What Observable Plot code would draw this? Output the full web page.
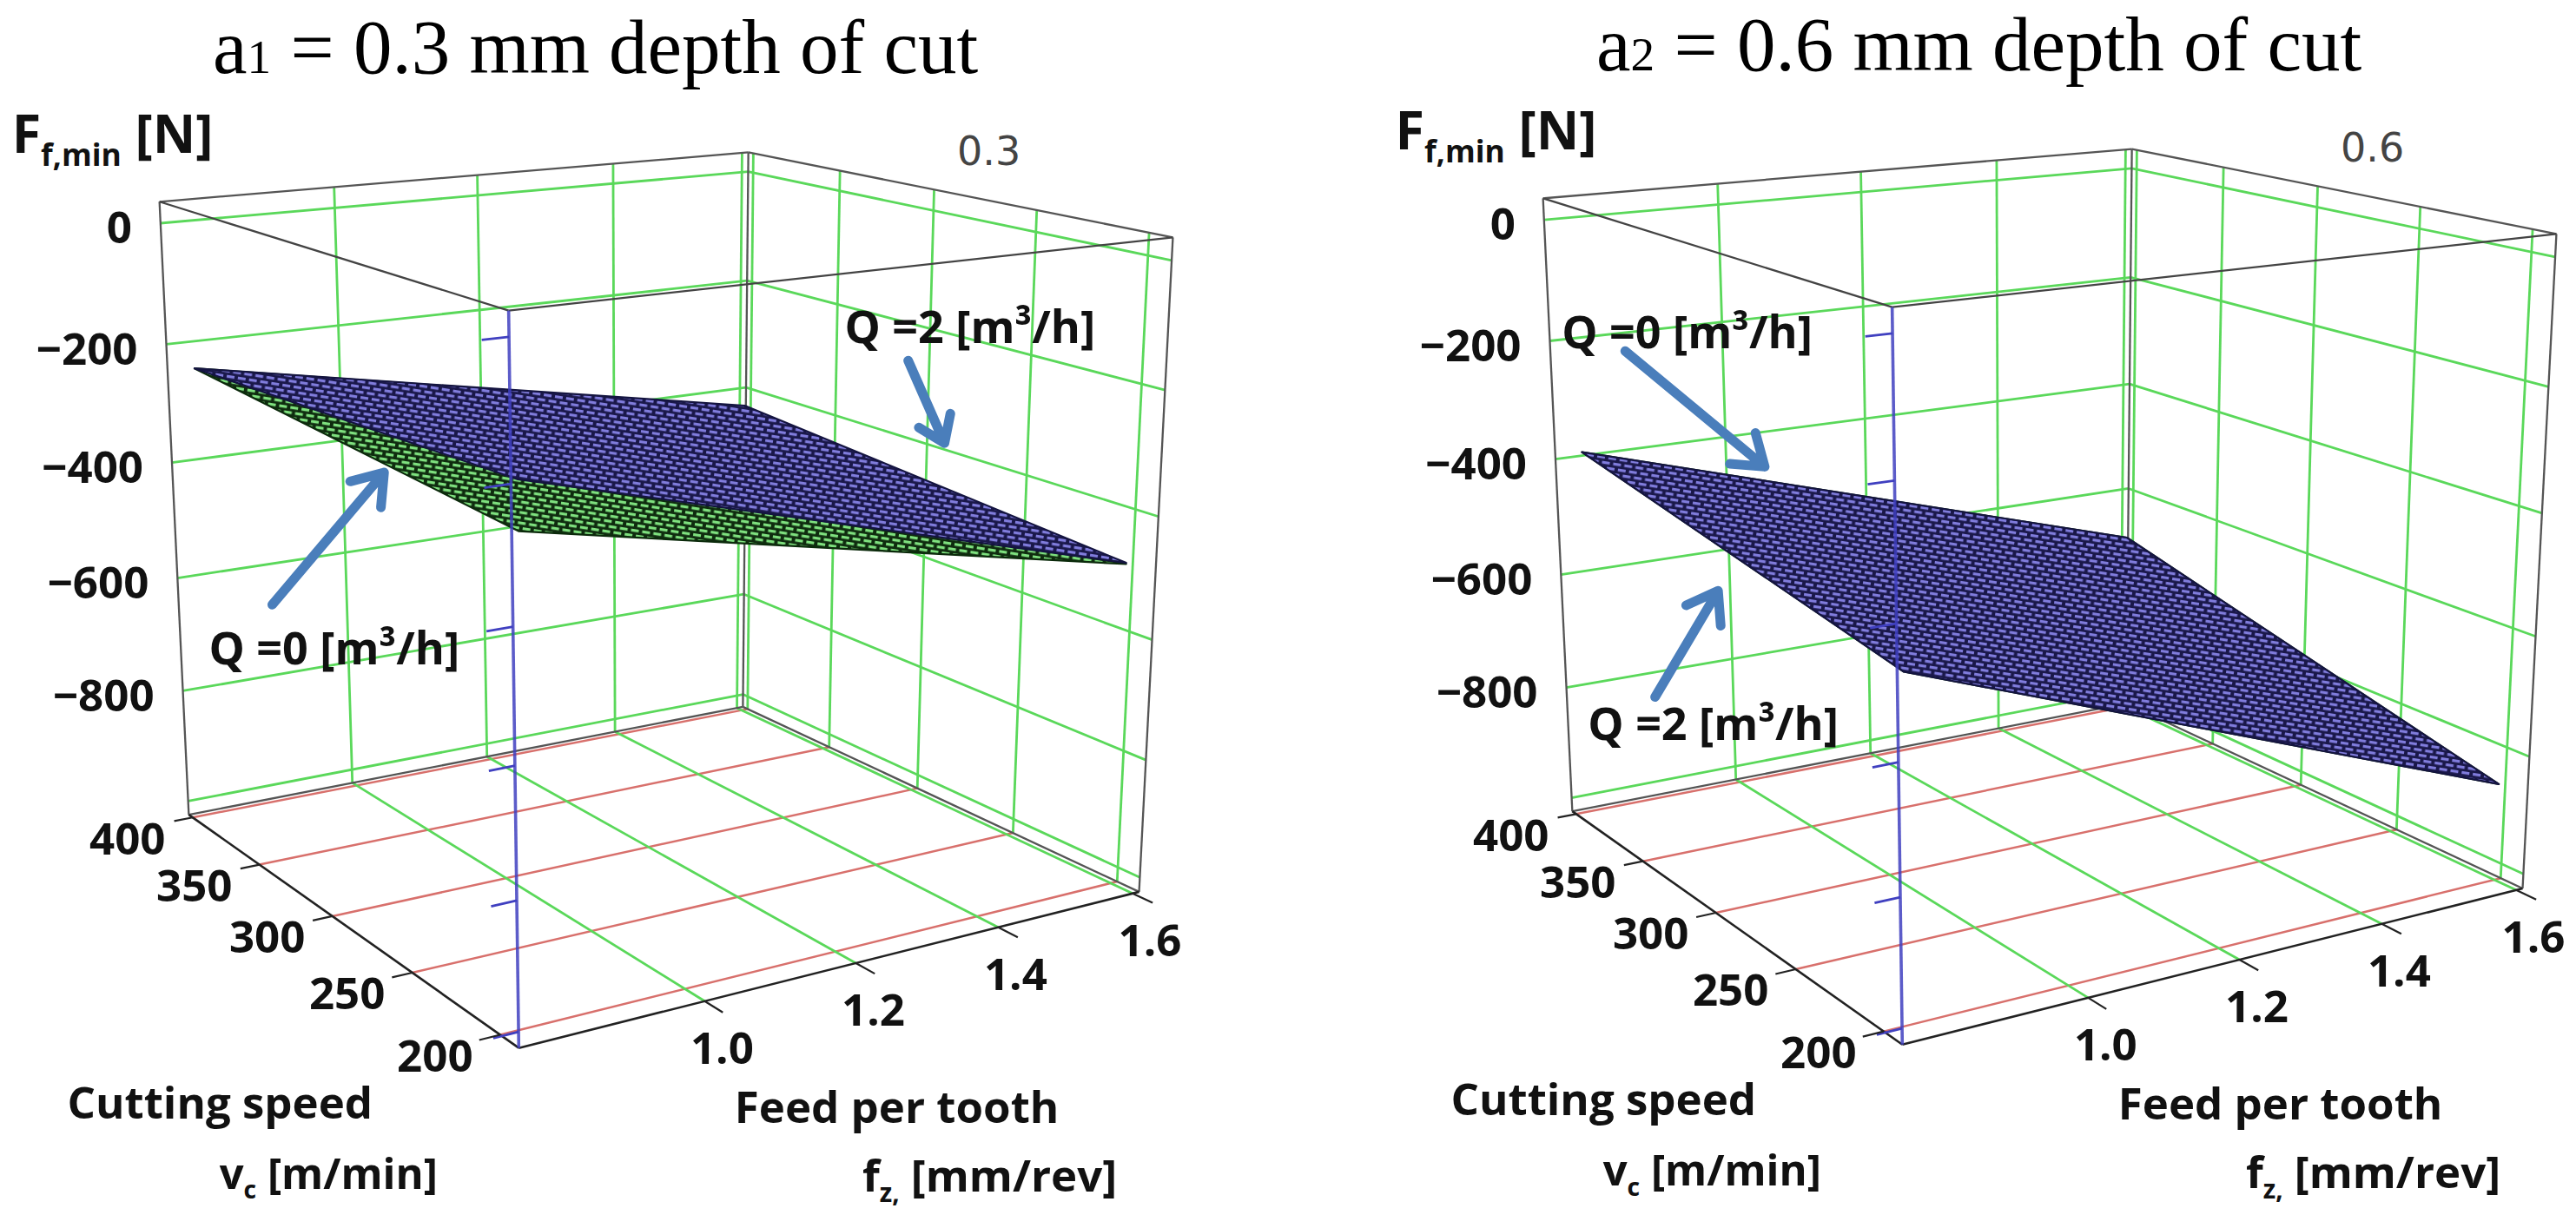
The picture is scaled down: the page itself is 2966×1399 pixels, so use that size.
<!DOCTYPE html>
<html>
<head>
<meta charset="utf-8">
<script src="https://cdn.jsdelivr.net/npm/d3@7"></script>
<script src="https://cdn.jsdelivr.net/npm/@observablehq/plot@0.6"></script>
<style>
  body { margin: 0; background: #fff; }
  #chart svg { display: block; }
</style>
</head>
<body>
<div id="chart"></div>
<script>
// panels: depth of cut
const depthOfCut = [0.3, 0.6];
const panelTitles = ["a~{1} = 0.3 mm depth of cut", "a~{2} = 0.6 mm depth of cut"];

// axes
const fzTicks = [1.0, 1.2, 1.4, 1.6];
const vcTicks = [200, 250, 300, 350, 400];
const forceTicks = [0, -200, -400, -600, -800, -1000];
const forceTickLabels = [0, -200, -400, -600, -800];

// extent of the plot box
const fzBox = [0.77, 1.61];
const vcBox = [190, 403];
const forceBox = [-1025, 35];

// surface corners, F_f,min [N] at (fz, vc) = (0.8,200) (1.6,200) (1.6,400) (0.8,400)
const fzCorners = [0.8, 1.6, 1.6, 0.8];
const vcCorners = [200, 200, 400, 400];
const forceQ0 = [[-283, -487, -432, -242], [-490, -860, -690, -390]];
const forceQ2 = [[-210, -485, -430, -242], [-490, -860, -690, -390]];

// annotations (fz, vc, F)
const notePanel = [0, 0, 1, 1];
const noteText = ["Q =0 [m³/h]", "Q =2 [m³/h]", "Q =0 [m³/h]", "Q =2 [m³/h]"];
const noteAt = [[0.98, 403, -773], [1.61, 280, -182], [0.952, 403, -214], [0.97, 403, -917]];
const arrowTail = [[0.896, 403, -673], [1.61, 311, -265], [0.868, 403, -231], [0.89, 403, -845]];
const arrowHead = [[1.058, 403, -467], [1.61, 291, -389], [1.054, 403, -462], [0.983, 403, -672]];

const W = 2966, H = 1399;

//Camera looking at the box (unit cube), perspective view
const view = {azimuth: 32, elevation: 16, distance: 4.3};
const xView = [-0.2117, 0.631];
const yView = [-0.2368, 0.1927];
const panelShift = [[0, 0], [0.4526, 0.0012]];

const rad = Math.PI / 180;
const sa = Math.sin(view.azimuth * rad), ca = Math.cos(view.azimuth * rad);
const sb = Math.sin(view.elevation * rad), cb = Math.cos(view.elevation * rad);
const fwd = [sa * cb, ca * cb, -sb];
const right = [ca, -sa, 0];
const up = [sa * sb, ca * sb, cb];

const ux = d3.scaleLinear(fzBox, [-0.5, 0.5]);
const uy = d3.scaleLinear(vcBox, [-0.5, 0.5]);
const uz = d3.scaleLinear(forceBox, [-0.5, 0.5]);

const project = (p, fz, vc, f) => {
  const P = [ux(fz), uy(vc), uz(f)];
  const dot = (a) => a[0] * P[0] + a[1] * P[1] + a[2] * P[2];
  const depth = view.distance + dot(fwd);
  return [dot(right) / depth + panelShift[p][0], dot(up) / depth + panelShift[p][1]];
};
const seg = (p, a, b) => {
  const [x1, y1] = project(p, ...a);
  const [x2, y2] = project(p, ...b);
  return {x1, y1, x2, y2};
};
const pt = (p, a, extra) => {
  const [x, y] = project(p, ...a);
  return {x, y, ...extra};
};

const [f0, f1] = fzBox, [v0, v1] = vcBox, [z0, z1] = forceBox;
const panels = [0, 1];

//Box grid
const floorRed = [], gridGreen = [], backEdges = [], axisEdges = [], frontEdges = [], blueEdge = [];
const blueTicks = [], vcTickMarks = [], fzTickMarks = [];
panels.forEach((p) => {
  vcTicks.forEach((vc) => floorRed.push(seg(p, [f0, vc, z0], [f1, vc, z0])));
  fzTicks.forEach((fz) => {
    gridGreen.push(seg(p, [fz, v0, z0], [fz, v1, z0]));
    gridGreen.push(seg(p, [fz, v1, z0], [fz, v1, z1]));
  });
  vcTicks.forEach((vc) => gridGreen.push(seg(p, [f1, vc, z0], [f1, vc, z1])));
  forceTicks.forEach((f) => {
    gridGreen.push(seg(p, [f0, v1, f], [f1, v1, f]));
    gridGreen.push(seg(p, [f1, v0, f], [f1, v1, f]));
    blueTicks.push(seg(p, [f0, v0, f], [f0 - 0.03, v0, f]));
  });
  backEdges.push(
    seg(p, [f0, v1, z0], [f0, v1, z1]),
    seg(p, [f1, v0, z0], [f1, v0, z1]),
    seg(p, [f1, v1, z0], [f1, v1, z1]),
    seg(p, [f1, v0, z0], [f1, v1, z0]),
    seg(p, [f0, v1, z0], [f1, v1, z0]),
    seg(p, [f1, v0, z1], [f1, v1, z1]),
    seg(p, [f0, v1, z1], [f1, v1, z1])
  );
  axisEdges.push(seg(p, [f0, v0, z0], [f1, v0, z0]), seg(p, [f0, v0, z0], [f0, v1, z0]));
  frontEdges.push(seg(p, [f0, v0, z1], [f1, v0, z1]), seg(p, [f0, v0, z1], [f0, v1, z1]));
  blueEdge.push(seg(p, [f0, v0, z0], [f0, v0, z1]));
  vcTicks.forEach((vc) => vcTickMarks.push(seg(p, [f0, vc, z0], [f0 - 0.025, vc, z0])));
  fzTickMarks.push(...fzTicks.map((fz) => seg(p, [fz, v0, z0], [fz, v0 - 9, z0])));
});

//Surfaces (patches through the four corner values)
const surface = (forces) =>
  panels.flatMap((p) => forces[p].map((f, i) => pt(p, [fzCorners[i], vcCorners[i], f], {key: p})));

//Labels
const forceLabels = panels.flatMap((p) =>
  forceTickLabels.map((f) => pt(p, [f0, v1, f], {text: f === 0 ? "0" : "\u2212" + Math.abs(f)}))
);
const vcLabels = panels.flatMap((p) => vcTicks.map((vc) => pt(p, [f0, vc, z0], {text: String(vc)})));
const fzLabels = panels.flatMap((p) => fzTicks.map((fz) => pt(p, [fz, v0, z0], {text: fz.toFixed(1)})));
const topCorner = panels.map((p) => pt(p, [f1, v1, z1], {title: panelTitles[p], depth: String(depthOfCut[p])}));
const leftCorner = panels.map((p) => pt(p, [f0, v1, z1], {text: "F_{f,min} [N]"}));
const frontCorner = panels.map((p) => pt(p, [f0, v0, z0]));
const rightCorner = panels.map((p) => pt(p, [f1, v0, z0]));
const notes = noteText.map((text, i) => pt(notePanel[i], noteAt[i], {text}));
const arrows = noteText.map((d, i) => seg(notePanel[i], arrowTail[i], arrowHead[i]));

const link = (data, options) => Plot.link(data, {x1: "x1", y1: "y1", x2: "x2", y2: "y2", ...options});
const bold = {fontFamily: "Open Sans", fontWeight: 700, fill: "#111"};

const chart = Plot.plot({
  width: W,
  height: H,
  margin: 0,
  x: {domain: xView, range: [0, W], axis: null},
  y: {domain: yView, range: [H, 0], axis: null},
  style: {fontFamily: "Open Sans", background: "#fff"},
  marks: [
    link(floorRed, {stroke: "#d8706c", strokeWidth: 2.5}),
    link(gridGreen, {stroke: "#5ad85a", strokeWidth: 2.8}),
    link(backEdges, {stroke: "#555", strokeWidth: 2.3}),
    link(axisEdges, {stroke: "#222", strokeWidth: 2.6}),
    Plot.line(surface(forceQ0), {x: "x", y: "y", z: "key", curve: "linear-closed", fill: "url(#mesh-green)", stroke: "#0b2a0b", strokeWidth: 2.2}),
    Plot.line(surface(forceQ2), {x: "x", y: "y", z: "key", curve: "linear-closed", fill: "url(#mesh-blue)", stroke: "#141440", strokeWidth: 2.2}),
    link(frontEdges, {stroke: "#444", strokeWidth: 2.3}),
    link(blueEdge, {stroke: "#4040c0", strokeWidth: 3.6, strokeOpacity: 0.85}),
    link(blueTicks, {stroke: "#4040c0", strokeWidth: 2.8}),
    link(vcTickMarks, {stroke: "#222", strokeWidth: 2.2}),
    link(fzTickMarks, {stroke: "#222", strokeWidth: 2.2}),
    Plot.text(forceLabels, {x: "x", y: "y", text: "text", ...bold, fontSize: 51, textAnchor: "end", lineAnchor: "middle", dx: -33, dy: 7}),
    Plot.text(vcLabels, {x: "x", y: "y", text: "text", ...bold, fontSize: 51, lineAnchor: "middle", dx: -75, dy: 26}),
    Plot.text(fzLabels, {x: "x", y: "y", text: "text", ...bold, fontSize: 51, lineAnchor: "middle", dx: 20, dy: 56}),
    Plot.text(topCorner, {x: "x", y: "y", text: "title", fontFamily: "Liberation Serif", fontSize: 89, fill: "#000", lineAnchor: "bottom", dx: -176, dy: -91}),
    Plot.text(topCorner, {x: "x", y: "y", text: "depth", fontFamily: "DejaVu Sans", fontSize: 46, fill: "#444", lineAnchor: "middle", dx: 277, dy: 0}),
    Plot.text(leftCorner, {x: "x", y: "y", text: "text", ...bold, fontSize: 61, textAnchor: "start", lineAnchor: "bottom", dx: -170, dy: -56}),
    Plot.text(frontCorner, {x: "x", y: "y", text: () => "Cutting speed", ...bold, fontSize: 51, lineAnchor: "bottom", dx: -344, dy: 81}),
    Plot.text(frontCorner, {x: "x", y: "y", text: () => "v_{c} [m/min]", ...bold, fontSize: 49, lineAnchor: "bottom", dx: -219, dy: 162}),
    Plot.text(rightCorner, {x: "x", y: "y", text: () => "Feed per tooth", ...bold, fontSize: 51, lineAnchor: "bottom", dx: -279, dy: 266}),
    Plot.text(rightCorner, {x: "x", y: "y", text: () => "f_{z,} [mm/rev]", ...bold, fontSize: 51, lineAnchor: "bottom", dx: -172, dy: 345}),
    Plot.arrow(arrows, {x1: "x1", y1: "y1", x2: "x2", y2: "y2", stroke: "#4a7ebb", strokeWidth: 11, headLength: 5.5, headAngle: 70}),
    Plot.text(notes, {x: "x", y: "y", text: "text", ...bold, fontSize: 52, lineAnchor: "middle"})
  ]
});

//Mesh texture of the surfaces: light cells between dark mesh lines
const defs = d3.select(chart).insert("defs", ":first-child");
const meshPattern = (id, line, cell) => {
  const pat = defs.append("pattern")
    .attr("id", id)
    .attr("patternUnits", "userSpaceOnUse")
    .attr("width", 13)
    .attr("height", 12)
    .attr("patternTransform", "rotate(9)");
  pat.append("rect").attr("width", 13).attr("height", 12).attr("fill", line);
  [[0, 1], [6.5, 7], [-6.5, 7]].forEach(([x, y]) =>
    pat.append("rect").attr("x", x).attr("y", y).attr("width", 9).attr("height", 3.2).attr("fill", cell)
  );
};
meshPattern("mesh-blue", "#1a184a", "#807cdc");
meshPattern("mesh-green", "#0f2c0f", "#7ee07e");

document.getElementById("chart").appendChild(chart);

//Rewrite _{sub}, ^{sup} and ~{small} markup as tspans
function richText(svg) {
  const modes = {"_": {size: 0.58, shift: 0.24}, "^": {size: 0.6, shift: -0.38}, "~": {size: 0.62, shift: 0}};
  svg.querySelectorAll("text").forEach((el) => {
    const src = el.textContent;
    if (!/[_^~]\{/.test(src)) return;
    const fs = parseFloat(getComputedStyle(el).fontSize) || 16;
    el.textContent = "";
    let current = 0;
    src.split(/([_^~]\{[^}]*\})/).forEach((part) => {
      if (!part) return;
      const m = part.match(/^([_^~])\{(.*)\}$/);
      const mode = m ? modes[m[1]] : null;
      const target = mode ? mode.shift * fs : 0;
      const span = document.createElementNS("http://www.w3.org/2000/svg", "tspan");
      span.textContent = m ? m[2] : part;
      if (mode) span.setAttribute("font-size", mode.size * fs);
      if (target !== current) span.setAttribute("dy", target - current);
      current = target;
      el.appendChild(span);
    });
  });
}
richText(chart);
</script>
</body>
</html>
